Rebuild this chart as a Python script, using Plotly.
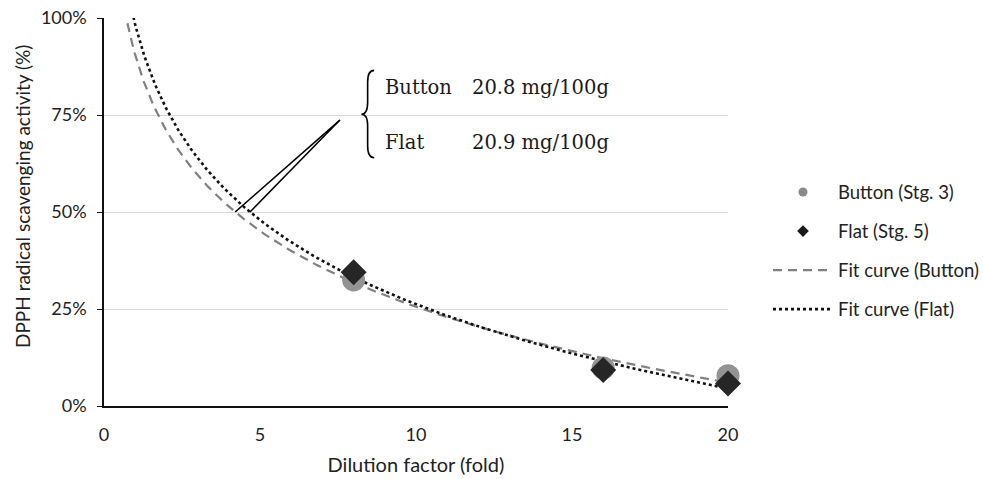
import numpy as np
import plotly.graph_objects as go

# Measured DPPH scavenging activity at each dilution
dilution = [8, 16, 20]
button_activity = [0.325, 0.098, 0.078]
flat_activity = [0.345, 0.093, 0.058]

# Logarithmic fit curves: y = slope * ln(x) + intercept
button_fit = {"slope": -0.282, "intercept": 0.905}
flat_fit = {"slope": -0.313, "intercept": 0.983}

# Annotated results
labels = ["Button", "Flat"]
values = ["20.8 mg/100g", "20.9 mg/100g"]

y_ticks = [0, 0.25, 0.5, 0.75, 1.0]
y_tick_text = ["0%", "25%", "50%", "75%", "100%"]
x_ticks = [0, 5, 10, 15, 20]

FONT = "Lato"
SERIF = "DejaVu Serif"

# plot area in pixels
W, H = 983, 479
ML, MR, MT, MB = 104, 255, 18, 73
PW, PH = W - ML - MR, H - MT - MB


def fit_curve(p, xs):
    return p["slope"] * np.log(xs) + p["intercept"]


def half_point(p):
    return float(np.exp((0.5 - p["intercept"]) / p["slope"]))


xs = np.linspace(0.5, 20, 400)

fig = go.Figure()

# fit curves
fig.add_trace(go.Scatter(x=xs, y=fit_curve(button_fit, xs), mode="lines",
                         line=dict(color="#808080", width=2.2, dash="9px,6px"),
                         showlegend=False, hoverinfo="skip"))
fig.add_trace(go.Scatter(x=xs, y=fit_curve(flat_fit, xs), mode="lines",
                         line=dict(color="#111111", width=2.6, dash="dot"),
                         showlegend=False, hoverinfo="skip"))

# measured points
fig.add_trace(go.Scatter(x=dilution, y=button_activity, mode="markers", cliponaxis=False,
                         marker=dict(symbol="circle", size=23, color="#939393",
                                     line=dict(width=0)),
                         showlegend=False))
fig.add_trace(go.Scatter(x=dilution, y=flat_activity, mode="markers", cliponaxis=False,
                         marker=dict(symbol="diamond", size=20, color="#262626",
                                     line=dict(width=0)),
                         showlegend=False))

# legend entries
fig.add_trace(go.Scatter(x=[None], y=[None], mode="markers", name="Button (Stg. 3)",
                         legendgroup="a",
                         marker=dict(symbol="circle", size=9, color="#8a8a8a")))
fig.add_trace(go.Scatter(x=[None], y=[None], mode="markers", name="Flat (Stg. 5)",
                         legendgroup="b",
                         marker=dict(symbol="diamond", size=9, color="#1a1a1a")))
fig.add_trace(go.Scatter(x=[None], y=[None], mode="lines", name="Fit curve (Button)",
                         legendgroup="c",
                         line=dict(color="#808080", width=2.2, dash="9px,6px")))
fig.add_trace(go.Scatter(x=[None], y=[None], mode="lines", name="Fit curve (Flat)",
                         legendgroup="d",
                         line=dict(color="#111111", width=2.6, dash="dot")))

# leader lines from the brace to the 50% points
x0, y0 = 7.56, 0.737
shapes = []
for p in (button_fit, flat_fit):
    shapes.append(dict(type="line", xref="x", yref="y", x0=x0, y0=y0,
                       x1=half_point(p), y1=0.5, line=dict(color="black", width=1.6)))

# curly brace
xt, xs_, xe = 8.25, 8.45, 8.66
yt, ym, yb, d = 0.865, 0.752, 0.640, 0.03
brace = (f"M{xe},{yt} Q{xs_},{yt} {xs_},{yt-d} L{xs_},{ym+d} "
         f"Q{xs_},{ym} {xt},{ym} Q{xs_},{ym} {xs_},{ym-d} "
         f"L{xs_},{yb+d} Q{xs_},{yb} {xe},{yb}")
shapes.append(dict(type="path", xref="x", yref="y", path=brace,
                   line=dict(color="black", width=1.6)))

annotations = []
for lab, val, yy in zip(labels, values, [0.82, 0.68]):
    annotations.append(dict(x=8.95, y=yy, xref="x", yref="y", text=lab, showarrow=False,
                            xanchor="left", yanchor="middle",
                            font=dict(family=SERIF, size=19.5, color="#1a1a1a")))
    annotations.append(dict(x=11.72, y=yy, xref="x", yref="y", text=val, showarrow=False,
                            xanchor="left", yanchor="middle",
                            font=dict(family=SERIF, size=19.5, color="#1a1a1a")))

# y-axis title
annotations.append(dict(x=(22 - ML) / PW, y=(H - MB - 197) / PH, xref="paper", yref="paper",
                        text="DPPH radical scavenging activity (%)", showarrow=False,
                        textangle=-90, xanchor="center", yanchor="middle",
                        font=dict(family=FONT, size=19, color="#222")))

fig.update_layout(
    width=W, height=H,
    margin=dict(l=ML, r=MR, t=MT, b=MB, autoexpand=False),
    paper_bgcolor="white", plot_bgcolor="white",
    font=dict(family=FONT, size=18, color="#222"),
    shapes=shapes, annotations=annotations,
    legend=dict(x=768 / W, y=1 - 251 / H, xref="container", yref="container",
                xanchor="left", yanchor="middle",
                font=dict(family=FONT, size=18.5, color="#222"),
                itemwidth=60,
                tracegroupgap=12, bgcolor="rgba(0,0,0,0)"),
    xaxis=dict(range=[0, 20], tickvals=x_ticks, showgrid=False, zeroline=False,
               showline=True, linecolor="#111", linewidth=1.5, ticks="",
               tickfont=dict(size=18), ticklabelstandoff=12, automargin=False,
               title=dict(text="Dilution factor (fold)", font=dict(size=20), standoff=14)),
    yaxis=dict(range=[0, 1], tickvals=y_ticks, ticktext=y_tick_text,
               showgrid=True, gridcolor="#d9d9d9", gridwidth=1, zeroline=False,
               showline=True, linecolor="#111", linewidth=1.5,
               ticks="outside", ticklen=5, tickcolor="#111", automargin=False,
               tickfont=dict(size=18), ticklabelstandoff=7),
)

fig.write_html("out.html")
